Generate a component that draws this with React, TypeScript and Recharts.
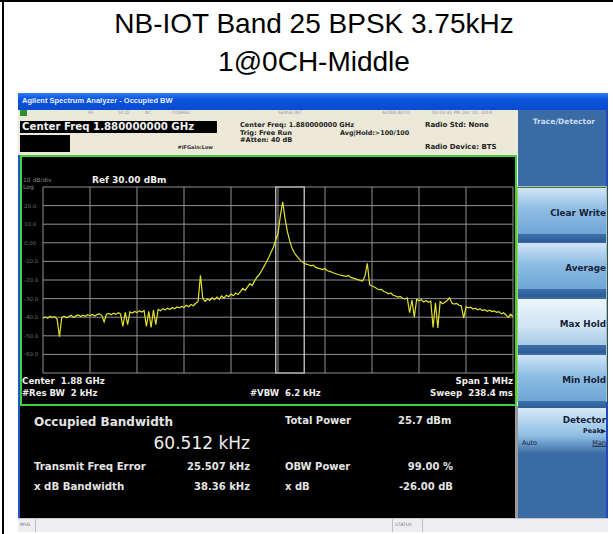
import React from "react";
import { LineChart, Line, XAxis, YAxis, CartesianGrid, ReferenceArea } from "recharts";

// values
const titleLines = ["NB-IOT Band 25 BPSK 3.75kHz", "1@0CH-Middle"];

const SPAN_START_KHZ = -500; // offset from 1.88 GHz centre
const STEP_KHZ = 5;
// max-hold trace in dBm, one value every 5 kHz from -500 to +500 kHz
const traceDbm = [
  -40.5, -39.8, -40.6, -39.5, -40.2, -39.7, -41.0, -50.5, -40.1, -39.4,
  -40.3, -39.6, -39.0, -40.2, -39.3, -38.8, -39.6, -38.9, -39.5, -38.7,
  -39.2, -38.5, -39.4, -38.6, -38.2, -39.0, -42.5, -38.4, -38.0, -38.7,
  -37.9, -38.5, -37.6, -38.2, -45.0, -37.4, -44.0, -37.2, -37.8, -36.9,
  -37.5, -36.6, -37.2, -36.4, -45.0, -36.8, -45.5, -36.2, -44.0, -35.8,
  -36.5, -35.4, -36.0, -35.2, -35.9, -34.8, -35.5, -34.5, -35.0, -34.2,
  -34.8, -33.6, -34.4, -33.2, -33.8, -32.5, -31.5, -17.5, -30.0, -31.5,
  -30.2, -31.0, -29.5, -30.6, -29.2, -30.4, -28.6, -29.8, -28.2, -29.0,
  -27.6, -28.5, -27.0, -27.8, -26.2, -24.5, -25.6, -23.8, -22.0, -23.0,
  -20.6, -18.5, -17.2, -15.0, -12.8, -10.5, -8.0, -5.2, -2.5, 1.5,
  5.0, 14.5, 22.0, 13.0, 6.0, 1.0, -3.0, -5.5, -7.2, -8.6,
  -10.0, -10.8, -11.5, -11.8, -12.4, -12.0, -13.2, -13.6, -14.0, -14.4,
  -13.8, -15.0, -15.4, -15.8, -16.4, -16.8, -17.2, -17.5, -17.8, -18.0,
  -17.6, -18.6, -19.0, -19.4, -19.8, -20.2, -20.6, -18.0, -11.0, -22.5,
  -23.2, -23.8, -24.6, -25.2, -25.0, -26.2, -26.6, -27.4, -27.0, -28.2,
  -28.6, -29.2, -28.8, -29.8, -30.2, -29.6, -37.5, -30.8, -40.0, -30.4,
  -31.2, -30.6, -31.8, -31.0, -32.0, -31.4, -45.5, -32.2, -45.8, -31.6,
  -32.8, -32.0, -31.0, -29.6, -32.4, -33.0, -32.6, -33.6, -34.0, -40.5,
  -34.4, -35.0, -34.6, -35.6, -35.2, -36.0, -35.5, -36.4, -36.0, -36.8,
  -36.2, -37.0, -36.6, -37.4, -37.0, -38.2, -37.6, -38.8, -40.2, -38.4,
  -39.6,
];

const freqTicksKHz = [-500, -400, -300, -200, -100, 0, 100, 200, 300, 400, 500];
const dbTicks = [30, 20, 10, 0, -10, -20, -30, -40, -50, -60, -70];
const dbTickLabels: Record<number, string> = {
  20: "20.0", 10: "10.0", 0: "0.00", [-10]: "-10.0", [-20]: "-20.0",
  [-30]: "-30.0", [-40]: "-40.0", [-50]: "-50.0", [-60]: "-60.0",
};

const obwCenterKHz = 25.507;
const obwWidthKHz = 60.512;

const traceButtons = ["Clear Write", "Average", "Max Hold", "Min Hold"];
const measLeft = [
  ["Transmit Freq Error", "25.507 kHz"],
  ["x dB Bandwidth", "38.36 kHz"],
];
const measRight = [
  ["OBW Power", "99.00 %"],
  ["x dB", "-26.00 dB"],
];
const statusCells = ["RF", "50 Ω", "AC", "CORREC", "SENSE:INT", "ALIGN AUTO", "03:03:45 PM Dec 10, 2018"];

const data = traceDbm.map((v, i) => ({ f: SPAN_START_KHZ + i * STEP_KHZ, v }));

const DOC_FONT = "Arial, 'Liberation Sans', sans-serif";
const SCREEN_FONT = "'DejaVu Sans', Verdana, sans-serif";

function T({ x, y, size = 9, bold = true, color = "#e8e8e8", right = false, font = SCREEN_FONT, children, style }: any) {
  return (
    <span
      style={{
        position: "absolute",
        left: x,
        top: y,
        transform: `translate(${right ? "-100%" : "0"}, -50%)`,
        fontSize: size,
        fontWeight: bold ? 700 : 400,
        color,
        whiteSpace: "pre",
        lineHeight: 1,
        fontFamily: font,
        ...style,
      }}
    >
      {children}
    </span>
  );
}

const box = (l: number, t: number, w: number, h: number, bg: string, extra: any = {}) => (
  <div style={{ position: "absolute", left: l, top: t, width: w, height: h, background: bg, boxSizing: "border-box", ...extra }} />
);

function Spectrum() {
  return (
    <LineChart width={496} height={250} data={data} margin={{ top: 32, right: 3, bottom: 32, left: 0 }}>
      <CartesianGrid stroke="#929292" strokeWidth={1} />
      <XAxis type="number" dataKey="f" domain={[-500, 500]} ticks={freqTicksKHz} hide />
      <YAxis
        type="number"
        domain={[-70, 30]}
        ticks={dbTicks}
        width={23}
        axisLine={false}
        tickLine={false}
        interval={0}
        tick={({ y, payload }: any) => (
          <text x={4} y={y} dy={2} fontSize={5.5} fill="#6e6e6e" fontFamily={SCREEN_FONT}>
            {dbTickLabels[payload.value] ?? ""}
          </text>
        )}
      />
      <ReferenceArea
        x1={obwCenterKHz - obwWidthKHz / 2}
        x2={obwCenterKHz + obwWidthKHz / 2}
        y1={-70}
        y2={30}
        stroke="#d8d8d8"
        strokeWidth={1.2}
        fill="none"
        fillOpacity={0}
        ifOverflow="visible"
      />
      <Line
        type="linear"
        dataKey="v"
        stroke="#e2e22a"
        strokeWidth={1.2}
        dot={false}
        isAnimationActive={false}
      />
    </LineChart>
  );
}

export default function App() {
  const btnTops = [188, 243, 299, 355];
  const ink = "#e4e4e4";
  const key = "#17233a";
  return (
    <div style={{ position: "absolute", left: 0, top: 0, width: 613, height: 534, background: "#fff", overflow: "hidden" }}>
      {/* document frame */}
      {box(0, 0, 613, 2, "#000")}
      {box(2, 0, 2, 534, "#000")}
      <T x={314} y={24} size={28} bold={false} color="#000" font={DOC_FONT} style={{ transform: "translate(-50%, -50%)" }}>{titleLines[0]}</T>
      <T x={314} y={62} size={28} bold={false} color="#000" font={DOC_FONT} style={{ transform: "translate(-50%, -50%)" }}>{titleLines[1]}</T>

      {/* analyzer window */}
      {box(18, 93, 590, 17, "linear-gradient(#2f7af5, #0b52da 40%, #0a4cd0)")}
      <T x={22} y={101} size={7.5} color="#e6efff" font={DOC_FONT}>Agilent Spectrum Analyzer - Occupied BW</T>
      {box(18, 110, 500, 6, "#ebe8dc")}
      {box(20, 110, 7, 6, "#2f8f2f")}
      {statusCells.map((s, i) => (
        <T key={s} x={[88, 118, 145, 172, 278, 382, 432][i]} y={113} size={4.5} bold={false} color="#9a9a9a">{s}</T>
      ))}
      {box(18, 116, 500, 39, "#ece9d9")}
      {box(20, 121, 197, 12, "#000")}
      <T x={22} y={127} size={10.2} color="#f0f0f0">Center Freq 1.880000000 GHz</T>
      {box(20, 135, 50, 17, "#000")}
      <T x={213} y={147} size={5} color="#333" right>#IFGain:Low</T>
      <T x={240} y={125} size={6.6} color="#222">Center Freq: 1.880000000 GHz</T>
      <T x={240} y={132.5} size={6.6} color="#222">Trig: Free Run</T>
      <T x={240} y={140} size={6.6} color="#222">#Atten: 40 dB</T>
      <T x={340} y={133} size={6.4} color="#222">Avg|Hold:&gt;100/100</T>
      <T x={425} y={125} size={7} color="#222">Radio Std: None</T>
      <T x={425} y={147} size={7} color="#222">Radio Device: BTS</T>

      {/* left blue edge of screen */}
      {box(18, 155, 2, 363, "#2455c8")}

      {/* plot frame */}
      {box(20, 155, 497, 251, "#000", { border: "2px solid #3fd23a" })}
      <div style={{ position: "absolute", left: 20, top: 155 }}>
        <Spectrum />
      </div>
      <T x={23} y={180} size={6} bold={false} color="#8a8a8a">10 dB/div</T>
      <T x={23} y={187} size={6} bold={false} color="#8a8a8a">Log</T>
      <T x={92} y={180} size={9} color="#eeeeee">Ref 30.00 dBm</T>
      <T x={22} y={381} size={8.7} color="#eeeeee">Center  1.88 GHz</T>
      <T x={22} y={393} size={8.5} color="#eeeeee">#Res BW  2 kHz</T>
      <T x={250} y={393} size={8.5} color="#eeeeee">#VBW  6.2 kHz</T>
      <T x={513} y={381} size={8.7} color="#eeeeee" right>Span 1 MHz</T>
      <T x={513} y={393} size={8.7} color="#eeeeee" right>Sweep  238.4 ms</T>

      {/* measurement results */}
      {box(20, 406, 497, 112, "#000")}
      {box(515, 406, 3, 112, "#9a9a9a")}
      <T x={34} y={422} size={12} color={ink}>Occupied Bandwidth</T>
      <T x={250} y={443} size={17} bold={false} color="#eeeeee" right>60.512 kHz</T>
      {measLeft.map(([k, v], i) => (
        <React.Fragment key={k}>
          <T x={34} y={467 + i * 20} size={10.2} color={ink}>{k}</T>
          <T x={250} y={467 + i * 20} size={10} color={ink} right>{v}</T>
        </React.Fragment>
      ))}
      <T x={285} y={421} size={10} color={ink}>Total Power</T>
      <T x={398} y={421} size={10} color={ink}>25.7 dBm</T>
      {measRight.map(([k, v], i) => (
        <React.Fragment key={k}>
          <T x={285} y={467 + i * 20} size={10} color={ink}>{k}</T>
          <T x={453} y={467 + i * 20} size={10} color={ink} right>{v}</T>
        </React.Fragment>
      ))}

      {/* softkey panel */}
      {box(518, 110, 90, 408, "#3b6ba4")}
      {box(606, 110, 2, 408, "#1f49c2")}
      <T x={595} y={122} size={7.5} color="#c9dcf2" right>Trace/Detector</T>
      {box(517, 186, 90, 216, "transparent", { border: "1px solid #b9c95a" })}
      {traceButtons.map((b, i) => (
        <React.Fragment key={b}>
          {box(518, btnTops[i], 88, 46, i === 2
            ? "linear-gradient(#eef6fc, #cfe3f3 60%, #a9cbe6)"
            : "linear-gradient(#cfe5f6, #8fbde3 45%, #6ea6d6)")}
          {box(518, btnTops[i] + 46, 88, 8, "linear-gradient(#3d70aa, #2c5b93)")}
          <T x={606} y={btnTops[i] + 25} size={8.8} color={key} right>{b}</T>
        </React.Fragment>
      ))}
      {box(518, 408, 88, 46, "linear-gradient(#d7eaf8, #8fbde3 60%, #3b6ba4)")}
      <T x={606} y={420} size={8.8} color={key} right>Detector</T>
      <T x={606} y={431} size={6.5} color={key} right>Peak▶</T>
      <T x={522} y={443} size={6.5} bold={false} color={key}>Auto</T>
      <T x={606} y={443} size={6.5} bold={false} color={key} right style={{ textDecoration: "underline" }}>Man</T>

      {/* status bar */}
      {box(18, 518, 590, 14, "#eeedf2", { borderTop: "1px solid #c8c8c8" })}
      {box(35, 519, 1, 13, "#c0c0c0")}
      {box(392, 519, 1, 13, "#c0c0c0")}
      {box(422, 519, 1, 13, "#c0c0c0")}
      <T x={20} y={525} size={4.5} bold={false} color="#777">MSG</T>
      <T x={395} y={525} size={4.5} bold={false} color="#777">STATUS</T>
    </div>
  );
}
